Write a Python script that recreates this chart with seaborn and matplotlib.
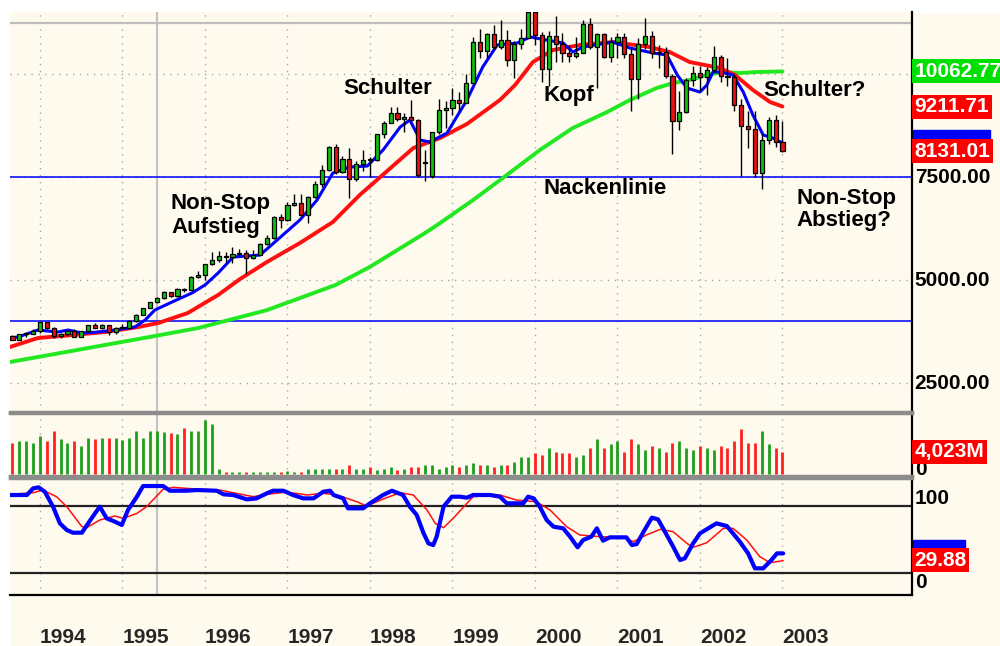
import matplotlib
matplotlib.use("Agg")
import matplotlib.pyplot as plt
import matplotlib.transforms as mtransforms
from matplotlib.patches import Rectangle
import pandas as pd
import seaborn as sns

sns.set_style("white")
plt.rcParams['font.family'] = ['Liberation Sans', 'DejaVu Sans']

# monthly candles Sep 1993 .. Jan 2003 (month 0 = Jan 1994)
months = list(range(-4, 109))
opens = [3651, 3555, 3681, 3684,
         3754, 3978, 3832, 3636, 3682, 3758, 3625, 3765, 3913, 3843, 3908, 3739,
         3834, 3844, 4011, 4158, 4321, 4465, 4556, 4709, 4611, 4789, 4756, 5075,
         5117, 5395, 5486, 5588, 5569, 5643, 5655, 5529, 5616, 5882, 6029, 6522,
         6448, 6813, 6878, 6584, 7009, 7331, 7673, 8223, 7622, 7945, 7442, 7823,
         7908, 7907, 8546, 8800, 9063, 8900, 8952, 8883, 7830, 7530, 8592, 9117,
         9181, 9359, 9307, 9786, 10789, 10560, 10971, 10655, 10829, 10337, 10730, 10878,
         11497, 10941, 10128, 10922, 10734, 10522, 10448, 10522, 11215, 10651, 10971, 10415,
         10787, 10887, 10495, 9879, 10735, 10912, 10502, 10523, 9950, 8848, 9075, 9852,
         10021, 9920, 10106, 10404, 9946, 9925, 9243, 8737, 8664, 7592, 8397, 8896,
         8342]
closes = [3555, 3681, 3684, 3754,
          3978, 3832, 3636, 3682, 3758, 3625, 3765, 3913, 3843, 3908, 3739, 3834,
          3844, 4011, 4158, 4321, 4465, 4556, 4709, 4611, 4789, 4756, 5075, 5117,
          5395, 5486, 5588, 5569, 5643, 5655, 5529, 5616, 5882, 6029, 6522, 6448,
          6813, 6878, 6584, 7009, 7331, 7673, 8223, 7622, 7945, 7442, 7823, 7908,
          7907, 8546, 8800, 9063, 8900, 8952, 8883, 7539, 7843, 8592, 9117, 9181,
          9359, 9307, 9786, 10789, 10560, 10971, 10655, 10829, 10337, 10730, 10878, 11497,
          10941, 10128, 10922, 10734, 10522, 10448, 10522, 11215, 10651, 10971, 10415, 10787,
          10887, 10495, 9879, 10735, 10912, 10502, 10523, 9950, 8848, 9075, 9852, 10021,
          9920, 10106, 10404, 9946, 9925, 9243, 8737, 8664, 7592, 8397, 8896, 8342,
          8131]
highs = [3660, 3700, 3710, 3800,
         3980, 3990, 3850, 3720, 3770, 3800, 3770, 3920, 3960, 3940, 3910, 3860,
         3930, 4020, 4170, 4330, 4470, 4600, 4730, 4720, 4800, 4810, 5110, 5220,
         5400, 5680, 5700, 5690, 5800, 5760, 5730, 5740, 5900, 6100, 6560, 6600,
         6900, 7100, 7100, 7050, 7400, 7800, 8250, 8300, 8000, 8200, 7900, 8150,
         7990, 8550, 8850, 9200, 9200, 9050, 9370, 8900, 8150, 8600, 9400, 9350,
         9650, 9560, 10000, 10900, 11100, 11000, 11200, 11300, 11080, 10800, 11100, 11550,
         11750, 11030, 11050, 11400, 11000, 10700, 10900, 11300, 11350, 10990, 11000, 10900,
         10990, 11000, 10650, 10880, 11350, 11050, 10700, 10650, 10000, 9600, 9900, 10200,
         10200, 10180, 10680, 10450, 10400, 10000, 9400, 9100, 9100, 8550, 8950, 9000,
         8850]
lows = [3540, 3550, 3620, 3680,
        3720, 3820, 3590, 3590, 3650, 3620, 3610, 3740, 3830, 3800, 3670, 3680,
        3820, 3840, 3990, 4150, 4320, 4440, 4550, 4580, 4590, 4700, 4750, 5050,
        5000, 5370, 5450, 5450, 5420, 5600, 5150, 5500, 5600, 5850, 6000, 6270,
        6440, 6790, 6580, 6390, 7000, 7250, 7650, 7580, 7600, 7000, 7400, 7650,
        7500, 7900, 8450, 8800, 8850, 8600, 8850, 7500, 7400, 7470, 8550, 8700,
        9000, 9100, 9300, 9780, 10400, 10400, 10600, 10600, 10200, 9900, 10600, 10900,
        10700, 9800, 9700, 10300, 10300, 10300, 10400, 10500, 10600, 9650, 10400, 10300,
        10400, 10400, 9100, 9400, 10600, 10400, 10150, 9900, 8060, 8650, 9050, 9700,
        9600, 9500, 10050, 9800, 9700, 9100, 7530, 8200, 7500, 7200, 8300, 8240,
        8100]
volume = [5734, 6039, 6039, 5734, 6954, 6039, 7869, 6344, 5734, 6039,
          5124, 6649, 6344, 6649, 6649, 6649, 6222, 6649, 7869, 6649,
          7869, 7869, 7747, 7564, 7259, 8479, 7869, 7869, 9882, 9150,
          915, 427, 427, 427, 427, 427, 427, 427, 427, 427,
          610, 427, 427, 976, 976, 976, 976, 976, 976, 1586,
          976, 976, 1220, 732, 976, 1220, 732, 976, 1220, 1220,
          1586, 1586, 976, 1342, 1586, 1342, 1586, 1952, 1586, 1586,
          1342,
          1586, 1586, 2196, 3172, 3172, 3782, 3477, 4697, 4087, 3782,
          3782, 3172, 3477, 4697, 6344, 4697, 5429, 6100, 4087, 6344,
          5429, 4392, 5124, 4697, 4087, 5734, 6039, 4697, 4392, 5124,
          4697, 4392, 5124, 4697, 6039, 8174, 5734, 5734, 7869, 5429,
          4697, 4023]

# moving averages
ma_short_m = [-4.4, -3.2, -0.3, 2.6, 4.1, 6.1, 8.4, 10.9, 13.8, 15.3, 16.7, 19.2, 22.1, 24.0,
              25.9, 28.1, 32.0, 34.5, 37.8, 40.3, 42.6, 45.1, 47.6, 49.9, 52.4, 53.8, 55.3,
              56.7, 59.2, 62.1, 64.4, 66.5, 69.4, 71.3, 73.7, 76.1, 77.5, 79.0, 83.3, 85.8,
              89.2, 91.2, 92.7, 94.1, 96.0, 97.0, 97.9, 98.9, 100.8, 102.3, 103.7, 105.2,
              106.6, 108.0]
ma_short = [3593, 3617, 3787, 3738, 3787, 3714, 3738, 3787, 3860, 4030, 4272, 4466, 4685, 4879,
            5170, 5559, 5607, 5971, 6457, 6942, 7597, 7743, 7767, 8155, 8714, 8884, 8398,
            8350, 8568, 9369, 10170, 10704, 10752, 10898, 10825, 10752, 10534, 10655, 10777,
            10631, 10510, 10461, 9976, 9660, 9563, 9733, 10049, 10049, 9976, 9563, 9005,
            8520, 8447, 8325]
ma_mid_m = [-4.4, -0.3, 4.7, 9.5, 14.3, 17.2, 21.5, 25.9, 29.1, 33.0, 37.8, 42.6, 46.5, 49.5,
            54.3, 58.2, 62.1, 66.9, 69.1, 71.7, 74.6, 78.5, 83.3, 88.7, 91.6, 94.5, 98.9,
            101.1, 103.7, 106.2, 108.0]
ma_mid = [3374, 3593, 3665, 3738, 3860, 3957, 4200, 4636, 5025, 5437, 5898, 6408, 7063, 7500,
          8204, 8447, 8787, 9369, 9733, 10291, 10582, 10704, 10777, 10655, 10534, 10291, 10146,
          9976, 9612, 9320, 9211.71]
ma_long_m = [-4.4, 7, 16, 23, 33, 43, 48, 56, 58.2, 63, 67.9, 72.7, 77.5, 82.5, 85.8, 89.7,
             92.1, 94.5, 97, 99.3, 101.8, 104.3, 108]
ma_long = [3010, 3350, 3620, 3835, 4270, 4880, 5320, 6140, 6384, 6942, 7549, 8155, 8689,
           9078, 9369, 9660, 9782, 9854, 9976, 10049, 10024, 10049, 10062.77]

# oscillator
osc_m = [-4.4, -1.9, -1.0, -0.2, 0.7, 1.9, 2.9, 3.9, 4.8, 6.1, 7.0, 8.0, 8.7, 9.7, 10.9, 11.9,
         12.8, 14.1, 15.0, 17.9, 18.9, 21.3, 22.8, 25.7, 26.7, 28.1, 30.1, 31.5, 33.0, 33.9,
         35.4, 36.8, 38.3, 39.8, 41.2, 42.2, 42.7, 44.1, 44.8, 47.0, 48.0, 49.9, 51.2, 52.8,
         53.8, 54.8, 55.8, 56.5, 57.2, 57.7, 58.7, 59.9, 61.1, 62.1, 63.0, 65.5, 66.9, 67.9,
         70.3, 71.0, 71.8, 72.7, 73.7, 74.7, 76.1, 77.1, 78.2, 79.0, 80.2, 81.0, 81.9, 82.9,
         85.3, 86.1, 86.8, 87.8, 89.0, 89.9, 90.9, 92.1, 93.1, 93.8, 95.0, 96.0, 97.2, 98.4,
         99.9, 100.8, 101.8, 103.0, 104.0, 105.2, 106.4, 107.2, 108.1]
osc = [103.6, 103.6, 111.5, 112.7, 107.5, 89.7, 69.8, 61.9, 58.7, 58.7, 69.8, 81.7, 89.7, 75.8,
       71.8, 67.9, 85.7, 101.6, 114.3, 114.3, 108.7, 108.7, 109.5, 108.7, 104.4, 103.6, 98.4,
       99.6, 105.6, 108.7, 108.7, 103.6, 99.6, 99.6, 107.5, 108.7, 103.6, 99.6, 87.7, 87.7,
       93.7, 103.6, 108.7, 103.6, 89.7, 79.8, 58.0, 46.0, 44.0, 54.0, 89.7, 101.6, 101.6,
       100.4, 103.6, 103.6, 101.6, 93.7, 93.7, 101.6, 99.6, 89.7, 73.8, 65.9, 63.9, 54.0,
       41.3, 50.0, 54.0, 63.9, 49.2, 53.2, 53.2, 44.0, 45.2, 59.9, 76.6, 74.6, 59.9, 42.1,
       26.2, 28.2, 46.0, 57.9, 63.9, 69.8, 66.7, 57.9, 48.0, 34.1, 16.3, 16.3, 26.2, 34.1, 34.1]
sig_m = [-4.4, -1.0, 0.4, 2.4, 3.9, 6.1, 6.8, 8.7, 10.9, 12.1, 14.1, 15.5, 17.9, 19.4, 23.3,
         26.2, 28.1, 31.0, 33.0, 35.4, 37.3, 38.8, 41.2, 43.2, 46.1, 47.5, 50.4, 52.4, 54.3,
         56.3, 57.5, 58.7, 60.1, 62.1, 63.0, 66.9, 69.3, 72.2, 74.2, 76.6, 78.5, 81.5, 84.8,
         86.3, 88.2, 90.2, 92.1, 94.1, 95.0, 97.0, 99.4, 100.8, 102.8, 104.7, 106.2, 108.1]
sig = [104.4, 106.3, 109.5, 101.6, 89.7, 65.9, 64.7, 73.8, 78.6, 75.8, 81.7, 89.7, 110.3, 112.7,
       110.3, 109.5, 106.3, 101.6, 104.4, 106.7, 105.6, 103.6, 105.6, 103.6, 95.6, 90.5, 100.4,
       106.3, 103.6, 85.7, 69.8, 64.7, 75.8, 93.7, 101.6, 103.6, 97.6, 95.6, 85.7, 65.9, 56.0,
       54.0, 53.2, 48.0, 56.0, 62.7, 59.9, 46.0, 41.3, 46.8, 63.9, 63.9, 50.0, 30.2, 23.0, 25.4]

years = [1994, 1995, 1996, 1997, 1998, 1999, 2000, 2001, 2002, 2003]
price_ticks = [2500, 5000, 7500]
neckline = 7500
support = 4000

cream = '#FFFAEE'
c_up = '#10C010'
c_dn = '#E81010'

df = pd.DataFrame({'m': months, 'o': opens, 'h': highs, 'l': lows, 'c': closes, 'vol': volume})
df['up'] = df['c'] >= df['o']

fig = plt.figure(figsize=(10, 6.46), dpi=100, facecolor=cream)
fig.patches.append(Rectangle((0, 1 - 12 / 646), 1, 12 / 646, transform=fig.transFigure,
                             color='white', zorder=-1))
fig.patches.append(Rectangle((0, 0), 0.010, 1, transform=fig.transFigure,
                             color='white', zorder=-1))

ax_p = fig.add_axes([0.010, 0.3622, 0.902, 0.6192])
ax_v = fig.add_axes([0.010, 0.2632, 0.902, 0.0975])
ax_o = fig.add_axes([0.010, 0.0789, 0.902, 0.1811])

year_m = [(y - 1994) * 12 for y in years]
for ax in (ax_p, ax_v, ax_o):
    ax.set_facecolor(cream)
    ax.set_xlim(-4.36, 126.84)
    ax.set_xticks([])
    ax.set_yticks([])
    for ym in year_m:
        ax.axvline(ym, color='#a8a8a8', lw=1, ls=(0, (1, 4)), zorder=0)
    ax.axvline(17, color='#c4c4c4', lw=1.6, zorder=0)
    ax.spines['left'].set_visible(False)
    ax.spines['right'].set_color('black')
    ax.spines['right'].set_linewidth(1.6)

# ---- price panel
ax_p.set_ylim(1797, 11505)
for t in price_ticks + [10000]:
    ax_p.axhline(t, color='#a8a8a8', lw=1, ls=(0, (1, 4)), zorder=0)
ax_p.axhline(11240, color='#bdbdbd', lw=1.6, zorder=0)
ax_p.axhline(neckline, color='#1010ff', lw=1.2, zorder=1)
ax_p.axhline(support, color='#1010ff', lw=1.2, zorder=1)

sns.lineplot(x=ma_long_m, y=ma_long, ax=ax_p, color='#22E822', lw=2.8, zorder=2)
sns.lineplot(x=ma_mid_m, y=ma_mid, ax=ax_p, color='#FF1010', lw=2.8, zorder=3)
sns.lineplot(x=ma_short_m, y=ma_short, ax=ax_p, color='#0000FF', lw=2.2, zorder=4)

ax_p.vlines(df['m'], df['l'], df['h'], color='black', lw=1, zorder=5)
body_lo = df[['o', 'c']].min(axis=1)
body_h = (df['c'] - df['o']).abs().clip(lower=25)
ax_p.bar(df['m'], body_h, bottom=body_lo, width=0.6,
         color=[c_up if u else c_dn for u in df['up']],
         edgecolor='black', linewidth=0.9, zorder=6)

ax_p.spines['top'].set_visible(False)
ax_p.spines['bottom'].set_color('#8c8c8c')
ax_p.spines['bottom'].set_linewidth(2.5)

fs = 16
txt = dict(fontsize=fs, fontweight='bold', color='black', ha='left', va='center', zorder=8)
ax_p.text(44.1, 9660, 'Schulter', **txt)
ax_p.text(19.05, 6566, 'Non-Stop\nAufstieg', linespacing=1.15, **txt)
ax_p.text(73.2, 9490, 'Kopf', **txt)
ax_p.text(73.2, 7233, 'Nackenlinie', **txt)
ax_p.text(105.2, 9612, 'Schulter?', **txt)
ax_p.text(110.1, 6711, 'Non-Stop\nAbstieg?', linespacing=1.1, **txt)

tr_p = mtransforms.blended_transform_factory(ax_p.transAxes, ax_p.transData)
lab = dict(fontsize=15, fontweight='bold', ha='left', va='center', transform=tr_p, clip_on=False)
for t in price_ticks:
    ax_p.text(1.003, t, f'{t:.2f}', color='black', **lab)
ax_p.text(1.003, 10062.77, '10062.77', color='white',
          bbox=dict(boxstyle='square,pad=0.12', fc='#00E000', ec='none'), **lab)
ax_p.text(1.003, 9211.71, '9211.71', color='white',
          bbox=dict(boxstyle='square,pad=0.12', fc='#FF0000', ec='none'), **lab)
# blue MA value box, mostly hidden behind the close box
ax_p.add_patch(Rectangle((1.001, 8150), 0.086, 500, transform=tr_p, color='#0000FF',
                         clip_on=False, zorder=2))
ax_p.text(1.003, 8131.01, '8131.01', color='white',
          bbox=dict(boxstyle='square,pad=0.12', fc='#FF0000', ec='none'), **lab)

# ---- volume panel
ax_v.set_ylim(-366, 11163)
ax_v.vlines(df['m'], 0, df['vol'], lw=2,
            color=['#1E9E1E' if u else '#FF2020' for u in df['up']], zorder=3)
for s in ('top', 'bottom'):
    ax_v.spines[s].set_color('#8c8c8c')
    ax_v.spines[s].set_linewidth(2.5)
tr_v = mtransforms.blended_transform_factory(ax_v.transAxes, ax_v.transData)
lab_v = dict(fontsize=15, fontweight='bold', ha='left', va='center', transform=tr_v, clip_on=False)
ax_v.text(1.003, 900, '0', color='black', **lab_v)
ax_v.text(1.003, volume[-1], '4,023M', color='white',
          bbox=dict(boxstyle='square,pad=0.12', fc='#FF0000', ec='none'), **lab_v)

# ---- oscillator panel
ax_o.set_ylim(-15.5, 123.8)
ax_o.axhline(90.8, color='#222222', lw=1.6, zorder=1)
ax_o.axhline(11.1, color='#222222', lw=1.6, zorder=1)
sns.lineplot(x=sig_m, y=sig, ax=ax_o, color='#FF1010', lw=1.1, zorder=3)
sns.lineplot(x=osc_m, y=osc, ax=ax_o, color='#0000FF', lw=3, zorder=4)
ax_o.spines['top'].set_color('#8c8c8c')
ax_o.spines['top'].set_linewidth(2.5)
ax_o.spines['bottom'].set_color('black')
ax_o.spines['bottom'].set_linewidth(1.6)
tr_o = mtransforms.blended_transform_factory(ax_o.transAxes, ax_o.transData)
lab_o = dict(fontsize=15, fontweight='bold', ha='left', va='center', transform=tr_o, clip_on=False)
ax_o.text(1.003, 100, '100', color='black', **lab_o)
ax_o.text(1.003, 0, '0', color='black', **lab_o)
ax_o.add_patch(Rectangle((1.001, 30), 0.058, 20, transform=tr_o, color='#0000FF',
                         clip_on=False, zorder=2))
ax_o.text(1.003, 26, '29.88', color='white',
          bbox=dict(boxstyle='square,pad=0.12', fc='#FF0000', ec='none'), **lab_o)

tr_x = mtransforms.blended_transform_factory(ax_o.transData, ax_o.transAxes)
for y, ym in zip(years, year_m):
    ax_o.text(ym, -0.36, str(y), transform=tr_x, fontsize=15, fontweight='bold',
              ha='left', va='center', clip_on=False)

for ax in (ax_p, ax_v, ax_o):
    ax.set_xlabel('')
    ax.set_ylabel('')

fig.savefig('out.png', dpi=100, facecolor=cream)
